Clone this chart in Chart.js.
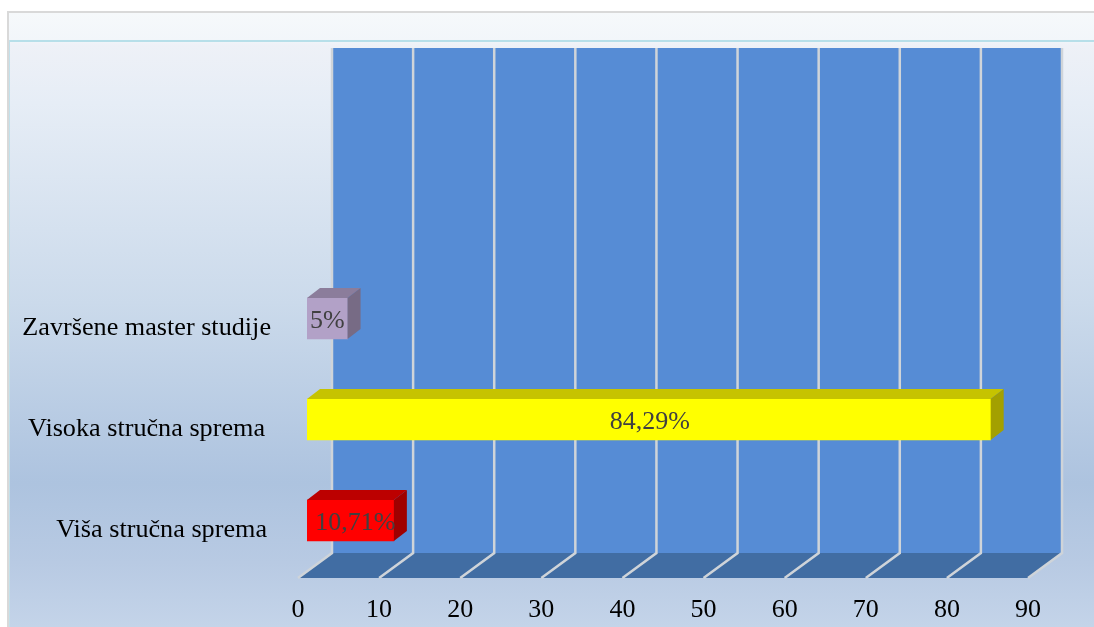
<!DOCTYPE html>
<html>
<head>
<meta charset="utf-8">
<style>
    html, body { margin: 0; padding: 0; background: #fff; overflow: hidden; }
    #frame {
        position: absolute; left: 7px; top: 11px; width: 1087px; height: 616px;
        border-left: 2px solid #d9d9d9; border-top: 2px solid #d9d9d9;
        box-sizing: border-box;
        background: linear-gradient(180deg, #f6f9fb 0, #f2f6fa 27px, #eef1f7 32px, #e6edf6 90px, #cbdaeb 290px, #adc3df 470px, #b8cae3 550px, #c4d4e9 614px);
    }
    #band { position: absolute; left: 9px; top: 40px; right: 0; height: 2px; background: #b7dfe9; }
    #edge { position: absolute; left: 9px; top: 40px; bottom: 0; width: 1px; background: #c3e0ea; }
    #wrap { position: absolute; left: 0; top: 0; width: 1094px; height: 627px; }
</style>
<script src="https://cdn.jsdelivr.net/npm/chart.js@4/dist/chart.umd.min.js"></script>
</head>
<body>
<div id="frame"></div>
<div id="band"></div>
<div id="edge"></div>
<div id="wrap"><canvas id="myChart" width="1094" height="627"></canvas></div>
<script>
// #### DATA ####
// top two rows of the chart are empty in the original
let categories = ["", "", "Završene master studije", "Visoka stručna sprema", "Viša stručna sprema"];
let values = [null, null, 5, 84.29, 10.71];
let valueLabels = ["", "", "5%", "84,29%", "10,71%"];
let tickValues = [0, 10, 20, 30, 40, 50, 60, 70, 80, 90];

// #### COLOURS ####
let barFront = ["", "", "#b2a1c7", "#ffff00", "#ff0000"];
let barTop = ["", "", "#8b7d9b", "#c6c300", "#bc0000"];
let barSide = ["", "", "#776b85", "#a3a000", "#9f0000"];
let wallColor = "#568cd5";
let floorColor = "#416da3";
let gridColor = "#cfd4d9";

// #### 3D OFFSETS ####
let barDepth = {x: 13, y: -10};
let wallDepth = {x: 25, y: -18};
let floorFront = {x: -9, y: 7};

let yLabelRight = [0, 0, 271, 265, 267];
let valueLabelShift = [0, 0, 0, 1, 5];
let serif = '"Liberation Serif", "Times New Roman", serif';

let poly = (ctx, pts, color) => {
    ctx.fillStyle = color;
    ctx.beginPath();
    pts.forEach((p, i) => i ? ctx.lineTo(p[0], p[1]) : ctx.moveTo(p[0], p[1]));
    ctx.closePath();
    ctx.fill();
}

let box3d = {
    id: "box3d",
    beforeDatasetsDraw(chart) {
        let ctx = chart.ctx;
        let x = chart.scales.x;
        let area = chart.chartArea;
        let wallTop = area.top + wallDepth.y;
        let wallBottom = area.bottom + wallDepth.y;
        let frontY = area.bottom + floorFront.y;

        ctx.save();
        // back wall
        ctx.fillStyle = wallColor;
        ctx.fillRect(area.left + wallDepth.x, wallTop, area.right - area.left, wallBottom - wallTop);
        // floor
        poly(ctx, [
            [area.left + wallDepth.x, wallBottom],
            [area.right + wallDepth.x, wallBottom],
            [area.right + floorFront.x, frontY],
            [area.left + floorFront.x, frontY]
        ], floorColor);
        // grid lines, wall and floor
        ctx.strokeStyle = gridColor;
        ctx.lineWidth = 2.5;
        ctx.beginPath();
        tickValues.forEach((v) => {
            let px = x.getPixelForValue(v);
            ctx.moveTo(px + wallDepth.x, wallTop);
            ctx.lineTo(px + wallDepth.x, wallBottom);
            ctx.lineTo(px + floorFront.x, frontY);
        });
        ctx.stroke();
        ctx.restore();
    },
    afterDatasetsDraw(chart) {
        let ctx = chart.ctx;
        let bars = chart.getDatasetMeta(0).data;
        ctx.save();
        values.forEach((v, i) => {
            if (v === null) return;
            let b = bars[i];
            let top = b.y - b.height / 2;
            let bottom = b.y + b.height / 2;
            poly(ctx, [
                [b.base, top],
                [b.x, top],
                [b.x + barDepth.x, top + barDepth.y],
                [b.base + barDepth.x, top + barDepth.y]
            ], barTop[i]);
            poly(ctx, [
                [b.x, top],
                [b.x + barDepth.x, top + barDepth.y],
                [b.x + barDepth.x, bottom + barDepth.y],
                [b.x, bottom]
            ], barSide[i]);
        });
        // value labels
        ctx.font = "26px " + serif;
        ctx.fillStyle = "#404040";
        ctx.textAlign = "center";
        ctx.textBaseline = "middle";
        values.forEach((v, i) => {
            if (v === null) return;
            let b = bars[i];
            ctx.fillText(valueLabels[i], (b.base + b.x) / 2 + valueLabelShift[i], b.y + 3);
        });
        // category labels sit lower than the bars, level with the floor plane
        ctx.font = "26.2px " + serif;
        ctx.fillStyle = "#000";
        ctx.textAlign = "right";
        categories.forEach((c, i) => {
            if (c) ctx.fillText(c, yLabelRight[i], chart.scales.y.getPixelForValue(i) + 10);
        });
        ctx.restore();
    }
};

let myChart = new Chart(document.getElementById("myChart").getContext("2d"), {
    type: "bar",
    data: {
        labels: categories,
        datasets: [{
            data: values,
            backgroundColor: barFront,
            barThickness: 41,
            borderWidth: 0
        }]
    },
    options: {
        indexAxis: "y",
        responsive: false,
        animation: false,
        layout: {padding: {top: 66, right: 57, bottom: 0, left: 0}},
        plugins: {legend: {display: false}, tooltip: {enabled: false}, title: {display: false}},
        scales: {
            x: {
                min: 0,
                max: 90,
                afterBuildTicks: (scale) => { scale.ticks = tickValues.map((v) => ({value: v})); },
                afterFit: (scale) => { scale.height = 56; scale.paddingLeft = 0; scale.paddingRight = 0; },
                grid: {display: false, drawTicks: false},
                border: {display: false},
                ticks: {
                    color: "#000",
                    font: {family: serif, size: 26},
                    padding: 24,
                    labelOffset: -9,
                    maxRotation: 0,
                    autoSkip: false
                }
            },
            y: {
                afterFit: (scale) => { scale.width = 307; },
                grid: {display: false},
                border: {display: false},
                ticks: {display: false}
            }
        }
    },
    plugins: [box3d]
});
</script>
</body>
</html>
